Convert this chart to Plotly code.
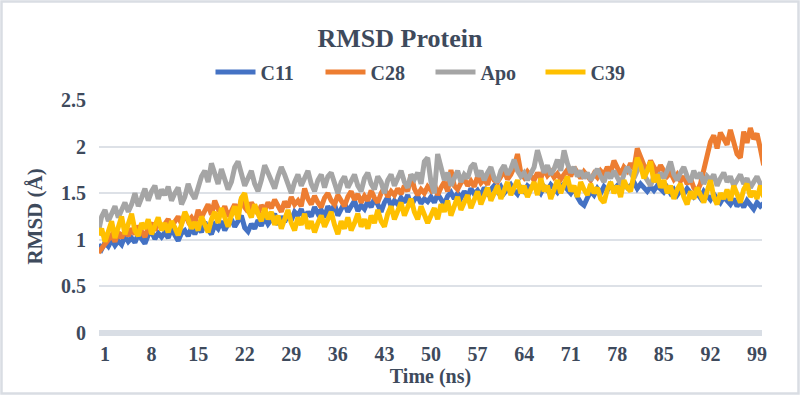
import plotly.graph_objects as go

# ---------------- data (sampled every 0.5 ns) ----------------
time_ns = [i * 0.5 for i in range(201)]

c11 = [
    0.95, 0.90, 0.97, 0.93, 1.00, 0.94, 0.99, 0.95, 1.04, 0.98,
    1.02, 0.97, 1.06, 1.00, 0.96, 1.05, 1.09, 1.01, 1.07, 1.03,
    1.08, 1.02, 1.12, 1.05, 0.99, 1.07, 1.10, 1.04, 1.13, 1.06,
    1.14, 1.08, 1.19, 1.11, 1.06, 1.16, 1.12, 1.20, 1.10, 1.17,
    1.22, 1.14, 1.19, 1.26, 1.13, 1.09, 1.17, 1.12, 1.21, 1.15,
    1.24, 1.17, 1.22, 1.28, 1.16, 1.25, 1.19, 1.27, 1.21, 1.30,
    1.26, 1.33, 1.22, 1.30, 1.25, 1.35, 1.28, 1.32, 1.24, 1.36,
    1.29, 1.38, 1.26, 1.33, 1.40, 1.30, 1.36, 1.42, 1.31, 1.37,
    1.33, 1.41, 1.35, 1.44, 1.38, 1.30, 1.40, 1.46, 1.36, 1.42,
    1.38, 1.45, 1.40, 1.48, 1.36, 1.43, 1.47, 1.39, 1.44, 1.41,
    1.46, 1.40, 1.49, 1.43, 1.38, 1.47, 1.51, 1.44, 1.50, 1.45,
    1.52, 1.46, 1.55, 1.49, 1.53, 1.47, 1.56, 1.50, 1.54, 1.58,
    1.52, 1.57, 1.50, 1.55, 1.59, 1.53, 1.49, 1.56, 1.52, 1.58,
    1.55, 1.60, 1.54, 1.50, 1.57, 1.53, 1.59, 1.55, 1.51, 1.57,
    1.60, 1.54, 1.50, 1.56, 1.46, 1.40, 1.37, 1.45, 1.52, 1.48,
    1.55, 1.50, 1.57, 1.53, 1.59, 1.54, 1.58, 1.52, 1.60, 1.56,
    1.58, 1.62, 1.55, 1.60, 1.56, 1.52, 1.57, 1.53, 1.58, 1.55,
    1.51, 1.56, 1.50, 1.54, 1.48, 1.53, 1.49, 1.55, 1.50, 1.46,
    1.50, 1.45, 1.52, 1.47, 1.43, 1.49, 1.44, 1.40, 1.46, 1.42,
    1.38, 1.44, 1.36, 1.41, 1.35, 1.42, 1.37, 1.33, 1.40, 1.36,
    1.39,
]

c28 = [
    0.86, 0.90, 0.95, 1.00, 1.05, 0.98, 1.08, 1.02, 1.10, 1.04,
    1.12, 1.06, 1.15, 1.09, 1.03, 1.13, 1.18, 1.10, 1.20, 1.12,
    1.16, 1.22, 1.14, 1.19, 1.25, 1.17, 1.28, 1.20, 1.24, 1.18,
    1.32, 1.24, 1.30, 1.38, 1.27, 1.42, 1.33, 1.28, 1.36, 1.25,
    1.31, 1.38, 1.29, 1.44, 1.35, 1.30, 1.40, 1.33, 1.28, 1.37,
    1.32, 1.40, 1.34, 1.43, 1.36, 1.30, 1.41, 1.35, 1.46, 1.38,
    1.42, 1.36, 1.55, 1.44, 1.38, 1.47, 1.40, 1.35, 1.45, 1.50,
    1.42, 1.38, 1.48, 1.41, 1.36, 1.46, 1.52, 1.43, 1.49, 1.40,
    1.47, 1.42, 1.53, 1.45, 1.40, 1.50, 1.56, 1.46, 1.52, 1.48,
    1.55, 1.49, 1.58, 1.52, 1.70, 1.55, 1.48, 1.54, 1.50, 1.57,
    1.53, 1.60, 1.48, 1.56, 1.62, 1.52, 1.75, 1.58, 1.54, 1.61,
    1.66, 1.58, 1.63, 1.57, 1.68, 1.61, 1.65, 1.59, 1.72, 1.64,
    1.62, 1.68, 1.74, 1.65, 1.70, 1.78, 1.92, 1.72, 1.67, 1.73,
    1.68, 1.64, 1.72, 1.66, 1.76, 1.69, 1.73, 1.67, 1.71, 1.65,
    1.70, 1.75, 1.68, 1.78, 1.72, 1.66, 1.73, 1.69, 1.64, 1.71,
    1.67, 1.74, 1.70, 1.78, 1.72, 1.85, 1.76, 1.70, 1.78, 1.74,
    1.82, 1.76, 1.98, 1.88, 1.80, 1.74, 1.85, 1.78, 1.72, 1.80,
    1.74, 1.68, 1.72, 1.65, 1.70, 1.63, 1.68, 1.60, 1.66, 1.56,
    1.52, 1.60, 1.75, 1.88, 2.05, 2.12, 1.98, 2.15, 2.08, 2.02,
    2.18, 2.06, 1.92, 1.88, 2.16, 2.04, 2.20, 2.08, 2.14, 1.98,
    1.80,
]

apo = [
    1.08, 1.25, 1.32, 1.20, 1.28, 1.36, 1.24, 1.33, 1.40, 1.30,
    1.38, 1.50, 1.36, 1.45, 1.55, 1.42, 1.52, 1.58, 1.44, 1.54,
    1.48, 1.57, 1.42, 1.50, 1.56, 1.38, 1.46, 1.60, 1.50, 1.44,
    1.55, 1.68, 1.74, 1.62, 1.82, 1.70, 1.60, 1.76, 1.66, 1.54,
    1.62, 1.78, 1.84, 1.70, 1.58, 1.66, 1.74, 1.60, 1.52, 1.64,
    1.80, 1.72, 1.62, 1.55, 1.68, 1.78, 1.70, 1.58, 1.50, 1.62,
    1.70, 1.58, 1.66, 1.74, 1.60, 1.52, 1.64, 1.70, 1.56, 1.68,
    1.72, 1.60, 1.50, 1.62, 1.68, 1.56, 1.64, 1.70, 1.58, 1.52,
    1.66, 1.72, 1.60, 1.54, 1.68, 1.62, 1.50, 1.64, 1.70, 1.58,
    1.66, 1.74, 1.62, 1.56, 1.70, 1.65, 1.72, 1.60, 1.84, 1.88,
    1.62, 1.50, 1.92, 1.76, 1.64, 1.72, 1.58, 1.66, 1.74, 1.62,
    1.70, 1.66, 1.78, 1.82, 1.68, 1.74, 1.64, 1.72, 1.78, 1.66,
    1.62, 1.74, 1.80, 1.70, 1.76, 1.86, 1.74, 1.68, 1.72, 1.64,
    1.70, 1.78, 1.96, 1.84, 1.72, 1.80, 1.70, 1.76, 1.86, 1.74,
    1.96, 1.82, 1.72, 1.78, 1.68, 1.74, 1.66, 1.72, 1.64, 1.70,
    1.76, 1.68, 1.62, 1.72, 1.66, 1.74, 1.68, 1.60, 1.70, 1.78,
    1.72, 1.66, 1.74, 1.80, 1.70, 1.64, 1.58, 1.68, 1.62, 1.72,
    1.66, 1.74, 1.84, 1.70, 1.64, 1.72, 1.78, 1.68, 1.62, 1.74,
    1.66, 1.72, 1.60, 1.68, 1.64, 1.70, 1.58, 1.66, 1.72, 1.62,
    1.68, 1.58, 1.64, 1.70, 1.60, 1.66, 1.56, 1.62, 1.68, 1.60,
    1.58,
]

c39 = [
    1.05, 1.12, 0.98, 1.08, 1.20, 1.02, 1.15, 1.25, 1.06, 1.18,
    1.28, 1.10, 1.04, 1.18, 1.12, 1.22, 1.06, 1.15, 1.24, 1.10,
    1.18, 1.08, 1.20, 1.13, 1.05, 1.16, 1.30, 1.22, 1.12, 1.19,
    1.10, 1.25, 1.16, 1.08, 1.22, 1.30, 1.18, 1.34, 1.24, 1.14,
    1.26, 1.36, 1.22, 1.45, 1.50, 1.32, 1.24, 1.38, 1.28, 1.20,
    1.34, 1.22, 1.30, 1.16, 1.26, 1.12, 1.22, 1.32, 1.18, 1.10,
    1.24, 1.16, 1.28, 1.12, 1.20, 1.08, 1.18, 1.26, 1.14, 1.22,
    1.30, 1.16, 1.06, 1.20, 1.12, 1.24, 1.10, 1.18, 1.28, 1.14,
    1.22, 1.12, 1.26, 1.18, 1.32, 1.20, 1.14, 1.28, 1.36, 1.22,
    1.30, 1.40, 1.26, 1.34, 1.44, 1.30, 1.22, 1.36, 1.28, 1.18,
    1.26, 1.34, 1.22, 1.38, 1.30, 1.42, 1.26, 1.36, 1.46, 1.32,
    1.40, 1.48, 1.34, 1.44, 1.52, 1.38, 1.46, 1.56, 1.42, 1.50,
    1.58, 1.44, 1.52, 1.62, 1.48, 1.56, 1.64, 1.50, 1.58, 1.46,
    1.54, 1.62, 1.48, 1.66, 1.52, 1.58, 1.44, 1.56, 1.64, 1.50,
    1.60, 1.68, 1.52, 1.58, 1.46, 1.62, 1.54, 1.48, 1.60, 1.50,
    1.56, 1.44, 1.40, 1.54, 1.62, 1.50, 1.58, 1.46, 1.64, 1.56,
    1.52, 1.70, 1.88, 1.80, 1.66, 1.74, 1.84, 1.62, 1.70, 1.56,
    1.64, 1.50, 1.58, 1.44, 1.54, 1.60, 1.46, 1.38, 1.52, 1.44,
    1.56, 1.48, 1.40, 1.52, 1.64, 1.46, 1.38, 1.50, 1.44, 1.54,
    1.42, 1.58, 1.48, 1.40, 1.54, 1.60, 1.46, 1.52, 1.44, 1.58,
    1.46,
]

series_names = ["C11", "C28", "Apo", "C39"]
x_tick_vals = list(range(1, 100, 7))
x_tick_text = [str(v) for v in x_tick_vals]
y_tick_vals = [0, 0.5, 1, 1.5, 2, 2.5]
y_tick_text = ["0", "0.5", "1", "1.5", "2", "2.5"]

# ---------------- style ----------------
colors = ["#4472C4", "#ED7D31", "#A5A5A5", "#FFC000"]
text_color = "#3E4A5C"
font_family = "Liberation Serif"
W, H = 800, 395
ML, MR, MT, MB = 99, 38, 100, 62
PW, PH = W - ML - MR, H - MT - MB

fig = go.Figure()
for name, vals, col in zip(series_names, [c11, c28, apo, c39], colors):
    fig.add_trace(go.Scatter(
        x=time_ns, y=vals, mode="lines", name=name,
        line=dict(color=col, width=5),
    ))

# chart border
fig.add_shape(
    type="rect", xref="paper", yref="paper", layer="below",
    x0=-(ML - 1.5) / PW, x1=1 + (MR - 1.5) / PW,
    y0=-(MB - 1.5) / PH, y1=1 + (MT - 1.5) / PH,
    line=dict(color="#D9DDE3", width=2.5), fillcolor="rgba(0,0,0,0)",
)

fig.update_layout(
    width=W, height=H,
    margin=dict(l=ML, r=MR, t=MT, b=MB),
    paper_bgcolor="white", plot_bgcolor="white",
    font=dict(family=font_family, color=text_color, size=20, weight="bold"),
    title=dict(
        text="RMSD Protein", x=0.5, xref="container", xanchor="center",
        y=1 - 38 / H, yref="container", yanchor="middle",
        font=dict(size=26, family=font_family, color=text_color, weight="bold"),
    ),
    legend=dict(
        orientation="h", x=0.5, xanchor="center", y=1 + (MT - 72) / PH,
        yanchor="middle", font=dict(size=20, family=font_family, color=text_color, weight="bold"),
        bgcolor="rgba(0,0,0,0)", itemwidth=40, traceorder="normal",
        entrywidth=55, entrywidthmode="pixels",
    ),
    showlegend=True,
    xaxis=dict(
        range=[0.1, 99.75], tickmode="array", tickvals=x_tick_vals, ticktext=x_tick_text,
        showgrid=False, zeroline=False, showline=False, ticks="",
        tickfont=dict(size=20), ticklabelstandoff=7,
        title=dict(text="Time (ns)", font=dict(size=20), standoff=0),
    ),
    yaxis=dict(
        range=[0, 2.5], tickmode="array", tickvals=y_tick_vals, ticktext=y_tick_text,
        showgrid=True, gridcolor="#DDE1E7", gridwidth=2,
        zeroline=True, zerolinecolor="#D9DEE5", zerolinewidth=6,
        showline=False, ticks="", tickfont=dict(size=20), ticklabelstandoff=12,
        title=dict(text="RMSD (Å)", font=dict(size=21), standoff=12),
    ),
)

fig.write_html("out.html")
